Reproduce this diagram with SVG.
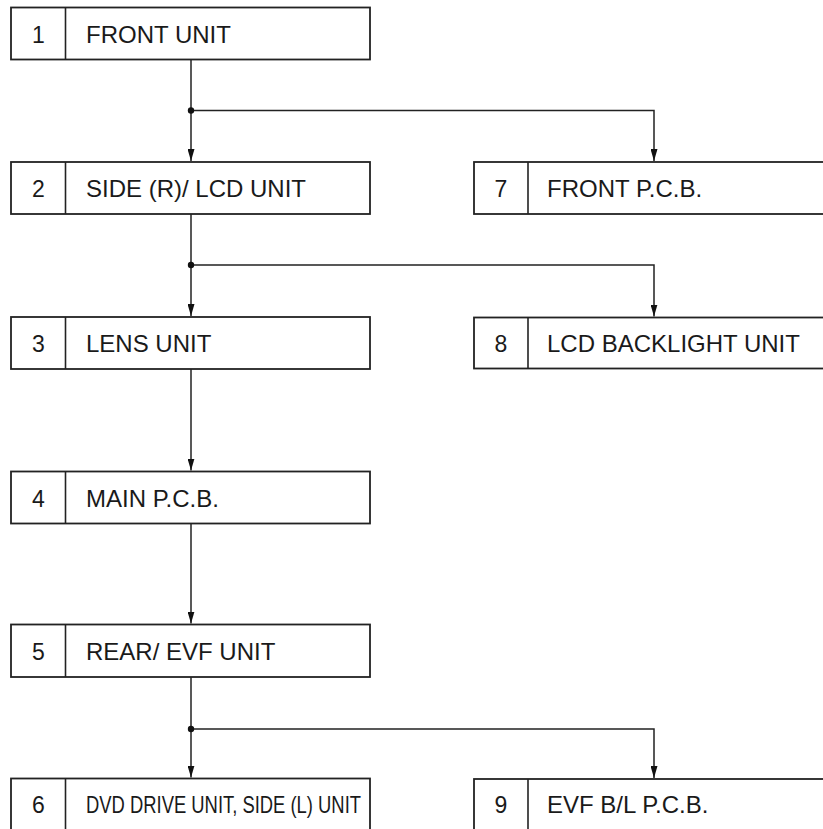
<svg xmlns="http://www.w3.org/2000/svg" width="823" height="829" viewBox="0 0 823 829">
<defs>
<style>
.box{fill:#fff;stroke:#222;stroke-width:1.8}
.div{stroke:#222;stroke-width:1.6}
.num{font-family:"Liberation Sans",Arial,sans-serif;font-size:23px;fill:#1a1a1a;text-anchor:middle}
.lbl{font-family:"Liberation Sans",Arial,sans-serif;font-size:24px;fill:#1a1a1a}
.con{fill:none;stroke:#222;stroke-width:1.5}
.dot{fill:#111}
</style>
<marker id="arrd" viewBox="0 0 7 12" refX="3.5" refY="12" markerWidth="7" markerHeight="12" markerUnits="userSpaceOnUse" orient="0">
<path d="M0,0 L7,0 L3.5,12 Z" fill="#111"/>
</marker>
</defs>
<rect width="823" height="829" fill="#fff"/>
<g id="connectors">
<path class="con" d="M191,59.5 V161" marker-end="url(#arrd)"/>
<path class="con" d="M191,110.5 H654 V161" marker-end="url(#arrd)"/>
<path class="con" d="M191,214 V316" marker-end="url(#arrd)"/>
<path class="con" d="M191,265 H654 V316.5" marker-end="url(#arrd)"/>
<path class="con" d="M191,369 V470.5" marker-end="url(#arrd)"/>
<path class="con" d="M191,523.5 V623.5" marker-end="url(#arrd)"/>
<path class="con" d="M191,677 V777.5" marker-end="url(#arrd)"/>
<path class="con" d="M191,729 H654 V778" marker-end="url(#arrd)"/>
<circle class="dot" cx="191" cy="110.5" r="3.2"/>
<circle class="dot" cx="191" cy="265" r="3.2"/>
<circle class="dot" cx="191" cy="729" r="3.2"/>
</g>
<g id="node1">
<rect class="box" x="11" y="7.5" width="359" height="52"/>
<line class="div" x1="65.5" y1="7.5" x2="65.5" y2="59.5"/>
<text class="num" x="38.5" y="42.5">1</text>
<text class="lbl" x="86" y="42.5">FRONT UNIT</text>
</g>
<g id="node2">
<rect class="box" x="11" y="162" width="359" height="52"/>
<line class="div" x1="65.5" y1="162" x2="65.5" y2="214"/>
<text class="num" x="38.5" y="197">2</text>
<text class="lbl" x="86" y="197">SIDE (R)/ LCD UNIT</text>
</g>
<g id="node3">
<rect class="box" x="11" y="317" width="359" height="52"/>
<line class="div" x1="65.5" y1="317" x2="65.5" y2="369"/>
<text class="num" x="38.5" y="352">3</text>
<text class="lbl" x="86" y="352">LENS UNIT</text>
</g>
<g id="node4">
<rect class="box" x="11" y="471.5" width="359" height="52"/>
<line class="div" x1="65.5" y1="471.5" x2="65.5" y2="523.5"/>
<text class="num" x="38.5" y="506.5">4</text>
<text class="lbl" x="86" y="506.5">MAIN P.C.B.</text>
</g>
<g id="node5">
<rect class="box" x="11" y="624.5" width="359" height="52.5"/>
<line class="div" x1="65.5" y1="624.5" x2="65.5" y2="677"/>
<text class="num" x="38.5" y="659.5">5</text>
<text class="lbl" x="86" y="659.5">REAR/ EVF UNIT</text>
</g>
<g id="node6">
<rect class="box" x="11" y="778.5" width="359" height="60"/>
<line class="div" x1="65.5" y1="778.5" x2="65.5" y2="838"/>
<text class="num" x="38.5" y="812.5">6</text>
<text class="lbl" x="86" y="812.5" textLength="275" lengthAdjust="spacingAndGlyphs">DVD DRIVE UNIT, SIDE (L) UNIT</text>
</g>
<g id="node7">
<rect class="box" x="474" y="162" width="360" height="52"/>
<line class="div" x1="528" y1="162" x2="528" y2="214"/>
<text class="num" x="501" y="197">7</text>
<text class="lbl" x="547" y="197">FRONT P.C.B.</text>
</g>
<g id="node8">
<rect class="box" x="474" y="317.5" width="360" height="51"/>
<line class="div" x1="528" y1="317.5" x2="528" y2="368.5"/>
<text class="num" x="501" y="352">8</text>
<text class="lbl" x="547" y="352">LCD BACKLIGHT UNIT</text>
</g>
<g id="node9">
<rect class="box" x="474" y="779" width="360" height="60"/>
<line class="div" x1="528" y1="779" x2="528" y2="838"/>
<text class="num" x="501" y="812.5">9</text>
<text class="lbl" x="547" y="812.5">EVF B/L P.C.B.</text>
</g>
</svg>
